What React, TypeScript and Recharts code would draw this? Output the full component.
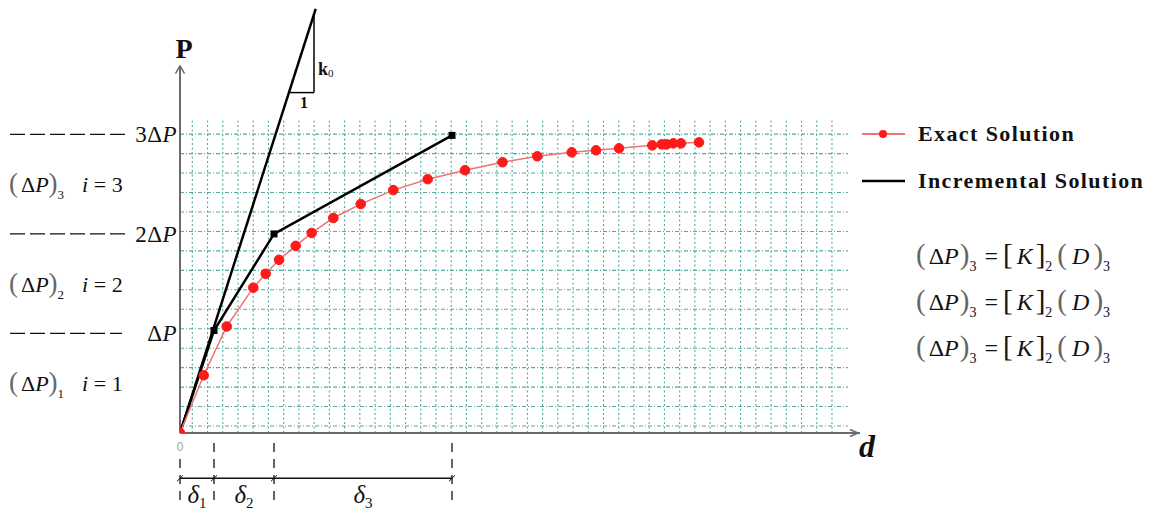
import React from "react";
import { ComposedChart, Line, XAxis, YAxis, ReferenceLine, ReferenceDot } from "recharts";

const SERIF = '"Liberation Serif", "DejaVu Serif", serif';

// exact solution, P in units of ΔP, d in arbitrary units
const exactD = [0, 2.37, 4.67, 7.33, 8.57, 9.9, 11.57, 13.17, 15.33, 18.07, 21.33, 24.77, 28.5, 32.25, 35.73, 39.17, 41.6, 43.9, 47.23, 48.17, 48.67, 49.33, 50.1, 51.9];
const exactP = [0, 0.58, 1.07, 1.46, 1.6, 1.74, 1.88, 2.01, 2.16, 2.3, 2.44, 2.55, 2.64, 2.72, 2.78, 2.82, 2.84, 2.86, 2.89, 2.9, 2.9, 2.91, 2.91, 2.92];

// incremental solution (one point per load step)
const incD = [0, 3.4, 9.4, 27.2];
const incP = [0, 1.03, 2.0, 2.99];

// initial stiffness k0
const k0D = [0, 13.57];
const k0P = [0, 4.26];

const levelTicks = [1, 2, 3];
const levelPrefix = ["", "2", "3"];
const stepTicks = [0.5, 1.5, 2.5];
const stepNames = ["1", "2", "3"];

const exactData = exactD.map((d, i) => ({ d, p: exactP[i] }));
const incData = incD.map((d, i) => ({ d, p: incP[i] }));
const k0Data = k0D.map((d, i) => ({ d, p: k0P[i] }));

// background grid (decoration only)
const gridV = Array.from({ length: 43 }, (_, k) => 1.23 + 1.523 * k);
const gridH = Array.from({ length: 16 }, (_, k) => 0.07 + 0.1955 * k);
const GRID = "#52aaa2";
const AXIS = "#6b6b6b";

function PTick(props: any) {
  const { y, payload } = props;
  const v = payload.value;
  const li = levelTicks.indexOf(v);
  if (li >= 0) {
    const pre = levelPrefix[li];
    return (
      <g>
        <line x1={10} x2={pre ? 128 : 122} y1={y} y2={y} stroke="#111" strokeWidth={1.3} strokeDasharray="15 5" />
        <text x={177} y={y + 8} textAnchor="end" fontFamily={SERIF} fontSize={23} letterSpacing={0.5} fill="#111">
          {pre}Δ<tspan fontStyle="italic">P</tspan>
        </text>
      </g>
    );
  }
  const si = stepTicks.indexOf(v);
  if (si < 0) return <g />;
  const n = stepNames[si];
  return (
    <text x={9} y={y + 8} fontFamily={SERIF} fontSize={22} fill="#111">
      <tspan fontSize={27} fill="#666">(</tspan>
      <tspan dx={3}>Δ</tspan>
      <tspan fontStyle="italic">P</tspan>
      <tspan fontSize={27} fill="#666">)</tspan>
      <tspan fontSize={13} dy={7}>{n}</tspan>
      <tspan dy={-7} dx={18} fontStyle="italic">i</tspan>
      <tspan> = {n}</tspan>
    </text>
  );
}

function SquareDot(props: any) {
  const { cx, cy, index } = props;
  if (index === 0 || cx == null) return <g key={`sq-${index}`} />;
  return <rect key={`sq-${index}`} x={cx - 3.5} y={cy - 3.5} width={7} height={7} fill="#000" />;
}

function Eq({ y }: { y: number }) {
  return (
    <text x={916} y={y} fontFamily={SERIF} fontSize={24} fill="#111">
      <tspan fill="#666" fontSize={29}>(</tspan>
      <tspan dx={3}>Δ</tspan>
      <tspan fontStyle="italic">P</tspan>
      <tspan fill="#666" fontSize={29} dx={1}>)</tspan>
      <tspan fontSize={14} dy={7}>3</tspan>
      <tspan dy={-7} dx={8}>=</tspan>
      <tspan fontSize={29} dx={5}>[</tspan>
      <tspan dx={4} fontStyle="italic">K</tspan>
      <tspan fontSize={29} dx={3}>]</tspan>
      <tspan fontSize={14} dy={7}>2</tspan>
      <tspan fill="#666" fontSize={29} dy={-7} dx={5}>(</tspan>
      <tspan dx={5} fontStyle="italic">D</tspan>
      <tspan fill="#666" fontSize={29} dx={4}>)</tspan>
      <tspan fontSize={14} dy={7}>3</tspan>
    </text>
  );
}

export default function App() {
  return (
    <div style={{ position: "absolute", left: 0, top: 0, width: 1165, height: 512, background: "#fff" }}>
      <ComposedChart width={1165} height={512} margin={{ top: 5, right: 305, bottom: 0, left: 0 }}>
        <XAxis
          type="number"
          dataKey="d"
          domain={[0, 68]}
          ticks={[0]}
          height={79}
          allowDataOverflow
          axisLine={{ stroke: AXIS, strokeWidth: 2 }}
          tickLine={false}
          tickMargin={3}
          tick={{ fill: "#a3a3a3", fontSize: 12, fontFamily: "Arial, sans-serif" }}
        />
        <YAxis
          type="number"
          dataKey="p"
          domain={[0, 4.3]}
          width={180}
          allowDataOverflow
          ticks={[0.5, 1, 1.5, 2, 2.5, 3]}
          interval={0}
          tick={<PTick />}
          axisLine={false}
          tickLine={false}
        />

        {gridH.map((p) => (
          <ReferenceLine key={`h${p}`} segment={[{ x: 0, y: p }, { x: 66.8, y: p }]} stroke={GRID} strokeWidth={1.1} strokeDasharray="4 2 1 2" />
        ))}
        {gridV.map((d) => (
          <ReferenceLine key={`v${d}`} segment={[{ x: d, y: 0 }, { x: d, y: 3.165 }]} stroke={GRID} strokeWidth={1.1} strokeDasharray="2 2.5" />
        ))}

        {/* axes with arrow heads */}
        <ReferenceLine segment={[{ x: 0, y: 0 }, { x: 0, y: 3.69 }]} stroke={AXIS} strokeWidth={2} ifOverflow="visible" />
        <ReferenceLine segment={[{ x: -0.45, y: 3.61 }, { x: 0, y: 3.69 }]} stroke={AXIS} strokeWidth={1.5} ifOverflow="visible" />
        <ReferenceLine segment={[{ x: 0.45, y: 3.61 }, { x: 0, y: 3.69 }]} stroke={AXIS} strokeWidth={1.5} ifOverflow="visible" />
        <ReferenceLine segment={[{ x: 67.0, y: 0.035 }, { x: 67.8, y: 0 }]} stroke={AXIS} strokeWidth={1.5} ifOverflow="visible" />
        <ReferenceLine segment={[{ x: 67.0, y: -0.035 }, { x: 67.8, y: 0 }]} stroke={AXIS} strokeWidth={1.5} ifOverflow="visible" />

        {/* slope triangle for k0 */}
        <ReferenceLine segment={[{ x: 13.4, y: 3.42 }, { x: 13.4, y: 4.207 }]} stroke="#000" strokeWidth={1.5} ifOverflow="visible" />
        <ReferenceLine segment={[{ x: 10.9, y: 3.42 }, { x: 13.4, y: 3.42 }]} stroke="#000" strokeWidth={1.5} ifOverflow="visible" />

        {/* increment dimension lines below the axis */}
        {incD.map((d, i) => (
          <ReferenceLine key={`dim${d}`} segment={[{ x: d, y: i === 0 ? -0.26 : -0.1 }, { x: d, y: -0.68 }]} stroke="#111" strokeWidth={1.3} strokeDasharray="9 7" ifOverflow="visible" />
        ))}
        <ReferenceLine segment={[{ x: incD[0], y: -0.455 }, { x: incD[incD.length - 1], y: -0.455 }]} stroke="#111" strokeWidth={1.5} ifOverflow="visible" />
        {incD.map((d) => (
          <ReferenceLine key={`tk${d}`} segment={[{ x: d - 0.3, y: -0.485 }, { x: d + 0.3, y: -0.425 }]} stroke="#111" strokeWidth={1} ifOverflow="visible" />
        ))}
        {incD.slice(1).map((d, i) => (
          <ReferenceDot
            key={`del${d}`}
            x={(incD[i] + d) / 2}
            y={-0.6}
            r={0}
            fill="none"
            stroke="none"
            ifOverflow="visible"
            label={(lp: any) => (
              <text x={lp.viewBox.x} y={lp.viewBox.y + 10} textAnchor="middle" fontFamily={SERIF} fontSize={25} fontStyle="italic" fill="#111">
                δ<tspan fontSize={15} fontStyle="normal" dy={5}>{i + 1}</tspan>
              </text>
            )}
          />
        ))}

        <Line data={k0Data} dataKey="p" type="linear" stroke="#000" strokeWidth={2.5} dot={false} isAnimationActive={false} />
        <Line data={incData} dataKey="p" type="linear" stroke="#000" strokeWidth={2.5} dot={<SquareDot />} isAnimationActive={false} />
        <Line
          data={exactData}
          dataKey="p"
          type="linear"
          stroke="#f07272"
          strokeWidth={1.5}
          dot={{ r: 4.8, fill: "#ff1a1a", stroke: "#ff1a1a", strokeWidth: 1 }}
          isAnimationActive={false}
        />
      </ComposedChart>

      <svg width={1165} height={512} style={{ position: "absolute", left: 0, top: 0, pointerEvents: "none" }}>
        <text x={184} y={58} textAnchor="middle" fontFamily={SERIF} fontSize={28} fontWeight="bold" fill="#111">P</text>
        <text x={867} y={457} textAnchor="middle" fontFamily={SERIF} fontSize={32} fontWeight="bold" fontStyle="italic" fill="#111">d</text>
        <text x={318} y={75} fontFamily={SERIF} fontSize={18} fontWeight="bold" fill="#111">
          k<tspan fontSize={11} fontWeight="normal" dy={2}>0</tspan>
        </text>
        <text x={304} y={108} textAnchor="middle" fontFamily={SERIF} fontSize={16} fontWeight="bold" fill="#111">1</text>

        {/* legend */}
        <line x1={862} x2={905} y1={134} y2={134} stroke="#f07272" strokeWidth={2} />
        <circle cx={883} cy={134} r={4} fill="#ff1a1a" />
        <text x={918} y={141} fontFamily={SERIF} fontSize={22} fontWeight="bold" letterSpacing={1.4} fill="#111">Exact Solution</text>
        <line x1={862} x2={905} y1={181} y2={181} stroke="#000" strokeWidth={2.5} />
        <text x={918} y={188} fontFamily={SERIF} fontSize={22} fontWeight="bold" letterSpacing={1.4} fill="#111">Incremental Solution</text>

        <Eq y={264} />
        <Eq y={310} />
        <Eq y={356} />
      </svg>
    </div>
  );
}
